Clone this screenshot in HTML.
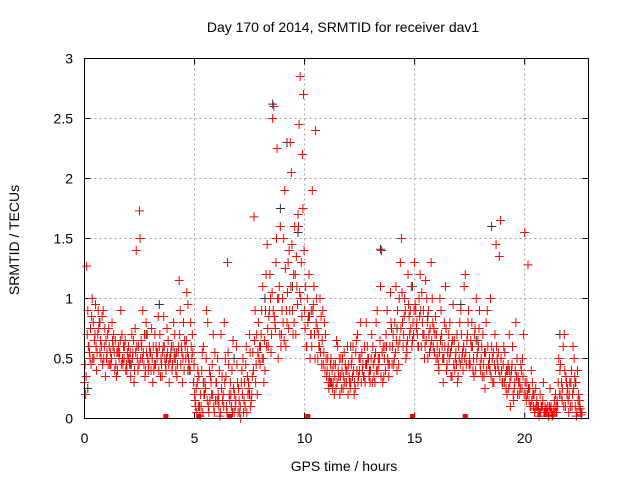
<!DOCTYPE html>
<html><head><meta charset="utf-8"><style>
html,body{margin:0;padding:0;background:#fff;}
svg{display:block;font-family:"Liberation Sans",sans-serif;}
</style></head><body>
<svg id="chart" width="640" height="480" viewBox="0 0 640 480">
<text x="343" y="32" font-size="14" text-anchor="middle">Day 170 of 2014, SRMTID for receiver dav1</text>
<text x="344" y="471" font-size="14" text-anchor="middle">GPS time / hours</text>
<text transform="translate(19,240) rotate(-90)" font-size="14" text-anchor="middle">SRMTID / TECUs</text>
<g id="grid"></g>
<g id="ticks"></g>
<g id="marks"></g>
<rect x="84.5" y="58.5" width="504" height="360" fill="none" stroke="#000" stroke-width="1"/>
</svg>
<script>
const xTicks=[0,5,10,15,20];
const yTicks=[0,0.5,1,1.5,2,2.5,3];
const yTickLabels=["0","0.5","1","1.5","2","2.5","3"];
const xMax=22.9, yMax=3;
const sampleStartA=0, sampleStartB=0.05, sampleStartC=0.025, sampleStartD=0.075, sampleStep=0.1;
const redA=[.3,1.27,.6,.45,.8,.95,.7,.55,.85,.6,
.5,.75,.45,.6,.65,.4,.55,.7,.5,.45,
.6,.35,.55,.75,.5,1.73,.6,.45,.8,.4,
.55,.3,.7,.5,.6,.45,.85,.4,.65,.5,
.45,.7,.35,1.15,.6,.8,.5,.95,.4,.7,
.2,.05,.35,.1,.6,.25,.8,.15,.45,.05,
.3,.1,.7,.2,.5,1.3,.15,.4,.05,.6,
.25,0,.5,.1,.35,.7,.2,1.68,.45,.8,
.6,1.1,.4,1.45,.9,.7,2.6,1.3,.5,1.6,
1.0,1.9,.8,1.4,2.05,1.2,.7,1.7,2.85,2.2,
.9,.6,1.2,.7,.95,2.4,.5,1.0,.65,.8,
.35,.25,.5,.3,.45,.6,.2,.4,.55,.3,
.45,.3,.6,.25,.7,.4,.55,.35,.8,.5,
.4,.6,.3,.9,.5,1.4,.35,.7,.45,1.05,
.6,.8,.4,1.0,1.5,.7,.5,1.2,.9,.65,
1.3,.8,1.0,.6,.9,1.15,.5,.75,1.0,.55,
.7,.4,.9,.3,1.1,.55,.8,.35,.65,.45,
.6,.9,.4,1.2,.7,.5,.8,.35,1.0,.6,
.4,.7,.25,.9,.5,.6,.3,1.45,.55,1.65,
.3,.55,.2,.7,.4,.15,.8,.35,.25,.5,
1.55,.3,.15,.4,.1,.25,.05,.2,.1,.05,
.05,.02,.1,.03,.2,.1,.4,.15,.7,.3,
.05,.3,.6,.1,.4,.15,.05];
const redB=[.2,.9,.5,1.0,.65,.4,.75,.5,.9,.35,
.7,.45,.8,.55,.35,.6,.9,.45,.65,.55,
.45,.7,.3,1.4,.6,.5,.9,.35,.7,.6,
.75,.4,.6,.85,.35,.55,.5,.75,.3,.6,
.8,.4,.55,.9,.3,.65,1.05,.45,.6,.3,
.1,.4,.02,.55,.2,.9,.05,.3,.7,.15,
.5,.02,.35,.8,.1,.45,.2,.65,.1,.3,
.05,.4,.15,.6,.3,.1,.55,.9,.2,.6,
.9,.3,1.2,.6,1.0,2.5,.8,2.25,1.1,.7,
1.5,.6,1.3,2.3,.9,1.6,1.1,2.45,1.3,2.7,
1.1,.8,.5,1.9,.7,1.0,.6,.85,.45,.7,
.5,.3,.4,.2,.65,.35,.5,.25,.45,.6,
.3,.5,.2,.65,.35,.8,.45,.3,.6,.4,
.7,.35,.8,.5,1.1,.3,.6,.9,.45,.75,
.45,1.1,.6,1.3,.8,1.0,.55,.85,1.1,.7,
.9,.6,1.2,.8,.5,1.0,.7,1.3,.6,.85,
.5,1.0,.6,.8,.4,.7,.35,.95,.5,.3,
.8,.5,1.1,.45,.9,.65,.4,.75,.55,.9,
.6,.35,.8,.45,1.0,.3,.7,.5,1.35,.4,
.6,.25,.45,.1,.6,.3,.5,.2,.4,.7,
.2,1.28,.1,.3,.05,.15,.02,.1,.3,.05,
.1,.25,.02,.15,.05,.5,.2,.6,.1,.25,
.3,.1,.5,.02,.2,.05];
const redC=[.45,.7,.55,.85,.5,.6,.9,.65,.45,.75,
.55,.6,.5,.7,.45,.55,.65,.5,.6,.4,
.5,.45,.65,.55,.4,1.5,.5,.7,.55,.45,
.4,.6,.45,.55,.7,.35,.6,.5,.45,.55,
.6,.5,.45,.7,.55,.4,.65,.5,.8,.55,
.15,.3,.1,.4,.2,.5,.1,.35,.2,.55,
.15,.4,.25,.1,.35,.55,.3,.05,.2,.45,
.15,.3,.05,.45,.2,.55,.35,.65,.7,.5,
.7,.5,.9,.75,1.2,1.05,.85,1.5,1.0,.6,
.8,1.25,1.05,.9,1.45,.8,1.35,1.6,1.0,1.75,
.75,1.0,.85,.6,1.1,.8,.7,.55,.9,.4,
.4,.35,.3,.45,.25,.4,.35,.5,.3,.4,
.35,.45,.4,.55,.3,.5,.4,.6,.45,.35,
.5,.45,.55,.4,.65,.55,.5,.6,.35,.8,
.7,.55,.9,.65,1.05,.85,.6,.95,.75,.8,
.95,.7,.85,1.05,.7,.65,.9,.6,.8,.7,
.6,.55,.7,.5,.75,.6,.55,.65,.4,.7,
.5,.7,.6,.55,.8,.45,.6,.7,.5,.75,
.5,.45,.55,.6,.4,.5,.45,.6,.4,.5,
.45,.35,.4,.3,.45,.25,.35,.3,.45,.35,
.3,.2,.25,.15,.2,.1,.1,.05,.15,.1,
.05,.1,.05,.08,.1,.3,.45,.25,.4,.2,
.2,.4,.25,.3,.15,.08];
const redD=[.35,.6,.75,.5,.7,.55,.8,.6,.5,.65,
.45,.55,.65,.4,.55,.5,.45,.6,.4,.5,
.55,.5,.4,.6,.45,.65,.55,.4,.5,.55,
.5,.45,.55,.4,.5,.6,.45,.55,.5,.4,
.5,.55,.6,.45,.5,.6,.55,.4,.5,.45,
.25,.1,.2,.05,.3,.15,.4,.2,.1,.3,
.2,.05,.15,.3,.05,.2,.1,.25,.15,.05,
.1,.2,.3,.05,.25,.15,.4,.3,.55,.45,
.5,.65,.6,.85,.55,.9,.75,1.0,.7,.9,
.65,.9,.75,1.1,.7,1.2,.95,1.05,.85,1.4,
.6,.85,.7,.9,.5,.75,.6,.45,.55,.5,
.3,.45,.25,.35,.3,.5,.25,.35,.4,.2,
.25,.35,.3,.4,.5,.3,.35,.45,.5,.3,
.3,.5,.4,.45,.35,.6,.4,.5,.6,.45,
.5,.65,.45,.75,.6,.9,.65,.7,.6,.9,
.75,.6,.9,.7,.6,.8,.55,.65,.75,.5,
.45,.65,.5,.6,.45,.5,.6,.45,.55,.35,
.45,.55,.5,.65,.45,.6,.5,.4,.65,.45,
.35,.55,.4,.45,.35,.55,.4,.45,.35,.3,
.3,.4,.25,.35,.2,.4,.2,.3,.25,.2,
.15,.25,.1,.2,.08,.1,.05,.1,.05,.08,
.02,.08,.03,.05,.15,.2,.3,.1,.35,.15,
.1,.2,.35,.05,.1,.03];
const grayT=[0.15,0.7,1.3,2.1,2.8,3.4,4.1,4.7,5.4,6.1,6.8,7.5,8.2,8.55,8.9,9.2,9.45,9.7,10.3,11.2,12.1,12.8,13.45,14.2,14.9,15.6,16.3,17.1,17.8,18.5,19.3,20.4,21.6,22.3];
const grayV=[.25,.8,.6,.45,.7,.95,.55,.4,.3,.15,.5,.2,1.0,2.62,1.75,2.3,1.1,1.55,.9,.3,.6,.45,1.41,.75,1.1,.85,.5,.95,.65,1.6,.4,.2,.7,.3];
const squaresT=[3.7,5.2,6.6,10.15,14.9,17.3];

const X=v=>84.5+v/xMax*504, Y=v=>418.5-v/yMax*360;
const NS="http://www.w3.org/2000/svg";
const grid=document.getElementById('grid'),ticks=document.getElementById('ticks'),marks=document.getElementById('marks');
xTicks.forEach(t=>{
 const x=X(t);
 if(t>0){const l=document.createElementNS(NS,'line');
 l.setAttribute('x1',x);l.setAttribute('x2',x);l.setAttribute('y1',58.5);l.setAttribute('y2',418.5);
 l.setAttribute('stroke','#a0a0a0');l.setAttribute('stroke-dasharray','2,3');
 
 
 grid.appendChild(l);}
 const tk=document.createElementNS(NS,'path');
 tk.setAttribute('d',`M${x},418.5v-6M${x},58.5v6`);tk.setAttribute('stroke','#000');
 
 
 ticks.appendChild(tk);
 const tx=document.createElementNS(NS,'text');
 tx.setAttribute('x',x);tx.setAttribute('y',443);tx.setAttribute('font-size','14');tx.setAttribute('text-anchor','middle');
 tx.textContent=String(t);
 
 
 ticks.appendChild(tx);
});
yTicks.forEach((t,i)=>{
 const y=Y(t);
 if(t>0&&t<yMax){const l=document.createElementNS(NS,'line');
 l.setAttribute('x1',84.5);l.setAttribute('x2',588.5);l.setAttribute('y1',y);l.setAttribute('y2',y);
 l.setAttribute('stroke','#a0a0a0');l.setAttribute('stroke-dasharray','2,3');
 
 
 grid.appendChild(l);}
 const tk=document.createElementNS(NS,'path');
 tk.setAttribute('d',`M84.5,${y}h6M588.5,${y}h-6`);tk.setAttribute('stroke','#000');
 
 
 ticks.appendChild(tk);
 const tx=document.createElementNS(NS,'text');
 tx.setAttribute('x',73);tx.setAttribute('y',y+5);tx.setAttribute('font-size','14');tx.setAttribute('text-anchor','end');
 tx.textContent=yTickLabels[i];
 
 
 ticks.appendChild(tx);
});
function plus(t,v,color,name){
 const x=X(t),y=Y(v);
 const p=document.createElementNS(NS,'path');
 p.setAttribute('d',`M${x-4.5},${y}h9M${x},${y-4.5}v9`);
 p.setAttribute('stroke',color);p.setAttribute('stroke-width','1');
 
 
 marks.appendChild(p);
}
grayV.forEach((v,i)=>plus(grayT[i],v,'#333','gray-point'));
redA.forEach((v,i)=>plus(sampleStartA+i*sampleStep,v,'#ff0000','red-point'));
redB.forEach((v,i)=>plus(sampleStartB+i*sampleStep,v,'#ff0000','red-point'));
redC.forEach((v,i)=>plus(sampleStartC+i*sampleStep,v,'#ff0000','red-point'));
redD.forEach((v,i)=>plus(sampleStartD+i*sampleStep,v,'#ff0000','red-point'));
squaresT.forEach(t=>{
 const r=document.createElementNS(NS,'rect');
 r.setAttribute('x',X(t)-2.5);r.setAttribute('y',414);r.setAttribute('width',5);r.setAttribute('height',5);
 r.setAttribute('fill','#ff0000');
 
 
 marks.appendChild(r);
});
</script>
</body></html>
